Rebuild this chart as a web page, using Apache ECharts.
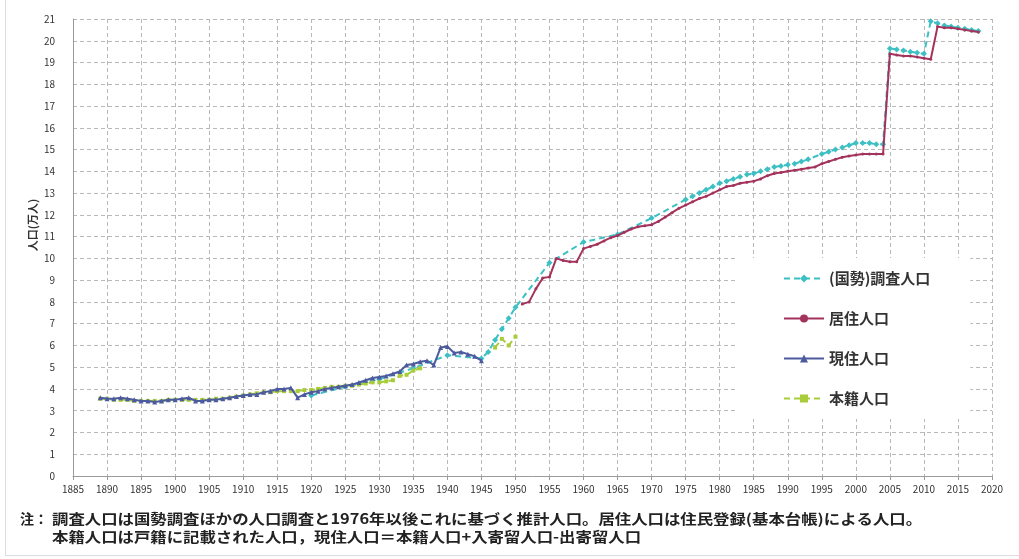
<!DOCTYPE html>
<html>
<head>
<meta charset="utf-8">
<script src="https://cdn.jsdelivr.net/npm/echarts@6/dist/echarts.min.js"></script>
<style>
html,body{margin:0;padding:0;background:#fff;}
#c{width:1019px;height:559px;}
</style>
</head>
<body>
<div id="c"></div>
<script>
// ---- data (万人) ----
var chosaYears = [1920,1925,1930,1935,1940,1945,1946,1947,1948,1949,1950,1955,1960,1965,1970,1975,
  1976,1977,1978,1979,1980,1981,1982,1983,1984,1985,1986,1987,1988,1989,1990,1991,1992,1993,
  1995,1996,1997,1998,1999,2000,2001,2002,2003,2004,2005,2006,2007,2008,2009,2010,2011,2012,2013,2014,2015,2016,2017,2018];
var chosaValues = [3.7,4.1,4.45,4.95,5.55,5.4,5.7,6.25,6.75,7.25,7.75,9.8,10.75,11.1,11.85,12.7,
  12.85,13.0,13.15,13.3,13.45,13.55,13.65,13.75,13.85,13.9,14.0,14.1,14.2,14.25,14.3,14.35,14.45,14.55,
  14.8,14.9,15.0,15.1,15.2,15.3,15.3,15.3,15.25,15.25,19.65,19.6,19.55,19.5,19.45,19.4,20.9,20.8,20.7,20.65,20.6,20.55,20.5,20.45];

var kyojuYears = [1951,1952,1953,1954,1955,1956,1957,1958,1959,1960,1961,1962,1963,1964,1965,1966,1967,1968,1969,1970,
  1971,1972,1973,1974,1975,1976,1977,1978,1979,1980,1981,1982,1983,1984,1985,1986,1987,1988,1989,1990,
  1991,1992,1993,1994,1995,1996,1997,1998,1999,2000,2001,2002,2003,2004,2005,2006,2007,2008,2009,2010,
  2011,2012,2013,2014,2015,2016,2017,2018];
var kyojuValues = [7.9,8.0,8.6,9.1,9.15,10.0,9.9,9.85,9.85,10.45,10.55,10.65,10.8,10.95,11.05,11.2,11.35,11.45,11.5,11.55,
  11.7,11.9,12.1,12.3,12.45,12.6,12.75,12.85,13.0,13.15,13.3,13.35,13.45,13.5,13.55,13.65,13.8,13.9,13.95,14.0,
  14.05,14.1,14.15,14.2,14.35,14.45,14.55,14.65,14.7,14.75,14.8,14.8,14.8,14.8,19.4,19.35,19.3,19.3,19.25,19.2,
  19.15,20.65,20.6,20.6,20.55,20.5,20.45,20.4];

var genjuYears = [1889,1890,1891,1892,1893,1894,1895,1896,1897,1898,1899,1900,1901,1902,1903,1904,1905,1906,1907,1908,
  1909,1910,1911,1912,1913,1914,1915,1916,1917,1918,1919,1920,1921,1922,1923,1924,1925,1926,1927,1928,
  1929,1930,1931,1932,1933,1934,1935,1936,1937,1938,1939,1940,1941,1942,1943,1944,1945];
var genjuValues = [3.6,3.55,3.55,3.6,3.55,3.5,3.45,3.45,3.4,3.45,3.5,3.5,3.55,3.6,3.45,3.45,3.5,3.5,3.55,3.6,
  3.65,3.7,3.75,3.75,3.85,3.9,4.0,4.0,4.05,3.6,3.75,3.85,3.9,4.0,4.05,4.1,4.15,4.2,4.3,4.4,
  4.5,4.55,4.6,4.7,4.8,5.1,5.15,5.25,5.3,5.1,5.9,5.95,5.65,5.7,5.6,5.5,5.3];

var honsekiYears = [1889,1890,1891,1892,1893,1894,1895,1896,1897,1898,1899,1900,1901,1902,1903,1904,1905,1906,1907,1908,
  1909,1910,1911,1912,1913,1914,1915,1916,1917,1918,1919,1920,1921,1922,1923,1924,1925,1926,1927,1928,
  1929,1930,1931,1932,1933,1934,1935,1936,1937,1947,1948,1949,1950];
var honsekiValues = [3.55,3.55,3.5,3.5,3.5,3.45,3.45,3.45,3.45,3.45,3.5,3.5,3.5,3.5,3.5,3.5,3.5,3.55,3.55,3.6,
  3.65,3.7,3.75,3.8,3.85,3.85,3.9,3.9,3.9,3.9,3.95,3.95,4.0,4.05,4.1,4.1,4.15,4.15,4.2,4.25,
  4.3,4.3,4.35,4.4,4.6,4.65,4.85,4.95,null,5.9,6.3,6.0,6.4];

var seriesNames = ['(国勢)調査人口','居住人口','現住人口','本籍人口'];
var xTicks = {min:1885, max:2020, step:5};
var yTicks = {min:0, max:21, step:1};

function pairs(ys, vs){
  return ys.map(function(y,i){ return [y, vs[i] == null ? '-' : vs[i]]; });
}

var chart = echarts.init(document.getElementById('c'), null, {renderer:'canvas'});
var font = '"Noto Sans CJK JP","Noto Sans",sans-serif';
var gridLine = {show:true, lineStyle:{color:'#b8b8b8', type:[4,3], width:1}};

chart.setOption({
  animation:false,
  backgroundColor:'#ffffff',
  textStyle:{fontFamily:font},
  grid:{left:73, right:27, top:19, bottom:83, containLabel:false},
  xAxis:{
    type:'value', min:xTicks.min, max:xTicks.max, interval:xTicks.step,
    axisLine:{show:true, lineStyle:{color:'#9a9a9a', width:1}},
    axisTick:{show:true, length:4, lineStyle:{color:'#9a9a9a'}},
    axisLabel:{color:'#333', fontSize:10, margin:8, formatter:function(v){return String(v);}},
    splitLine:gridLine
  },
  yAxis:{
    type:'value', min:yTicks.min, max:yTicks.max, interval:yTicks.step,
    axisLine:{show:true, lineStyle:{color:'#9a9a9a', width:1}},
    axisTick:{show:false},
    axisLabel:{color:'#333', fontSize:10, margin:18},
    splitLine:gridLine
  },
  legend:{
    orient:'vertical', left:737, top:258,
    padding:[13,40,13,46],
    backgroundColor:'#ffffff',
    itemWidth:40, itemHeight:10, itemGap:25,
    data:seriesNames,
    textStyle:{fontSize:15, color:'#333', fontWeight:'bold', fontFamily:font, padding:[0,0,0,0]}
  },
  graphic:[
    {type:'text', x:33, y:225, rotation:Math.PI/2,
      style:{text:'人口(万人)', font:'bold 11px ' + font, fill:'#333', textAlign:'center', textVerticalAlign:'middle', align:'center', verticalAlign:'middle'}},
    {type:'text', x:20, y:519,
      style:{text:'注：', font:'bold 14px ' + font, fill:'#222', textVerticalAlign:'middle', verticalAlign:'middle'}},
    {type:'text', x:52, y:519, scaleX:1.17,
      style:{text:'調査人口は国勢調査ほかの人口調査と1976年以後これに基づく推計人口。居住人口は住民登録(基本台帳)による人口。', font:'bold 14px ' + font, fill:'#222', textVerticalAlign:'middle', verticalAlign:'middle'}},
    {type:'text', x:52, y:537, scaleX:1.17,
      style:{text:'本籍人口は戸籍に記載された人口，現住人口＝本籍人口+入寄留人口-出寄留人口', font:'bold 14px ' + font, fill:'#222', textVerticalAlign:'middle', verticalAlign:'middle'}},
    {type:'line', shape:{x1:5.5, y1:0, x2:5.5, y2:555}, style:{stroke:'#dddddd', lineWidth:1}},
    {type:'line', shape:{x1:5, y1:555.5, x2:1019, y2:555.5}, style:{stroke:'#dddddd', lineWidth:1}}
  ],
  series:[
    {name:seriesNames[0], type:'line', z:2, data:pairs(chosaYears, chosaValues),
      color:'#3cc0c4', symbol:'diamond', symbolSize:6, showSymbol:true,
      lineStyle:{width:2, type:[6,4]}, itemStyle:{color:'#3cc0c4'}},
    {name:seriesNames[3], type:'line', z:3, data:pairs(honsekiYears, honsekiValues),
      color:'#a9cd3a', symbol:'rect', symbolSize:4, showSymbol:true,
      lineStyle:{width:2, type:[6,4]}, itemStyle:{color:'#a9cd3a'}},
    {name:seriesNames[2], type:'line', z:4, data:pairs(genjuYears, genjuValues),
      color:'#4c5b9e', symbol:'triangle', symbolSize:5, showSymbol:true,
      lineStyle:{width:2}, itemStyle:{color:'#4c5b9e'}},
    {name:seriesNames[1], type:'line', z:5, data:pairs(kyojuYears, kyojuValues),
      color:'#a3335c', symbol:'circle', symbolSize:3, showSymbol:true,
      lineStyle:{width:2}, itemStyle:{color:'#a3335c'}}
  ]
});
</script>
</body>
</html>
